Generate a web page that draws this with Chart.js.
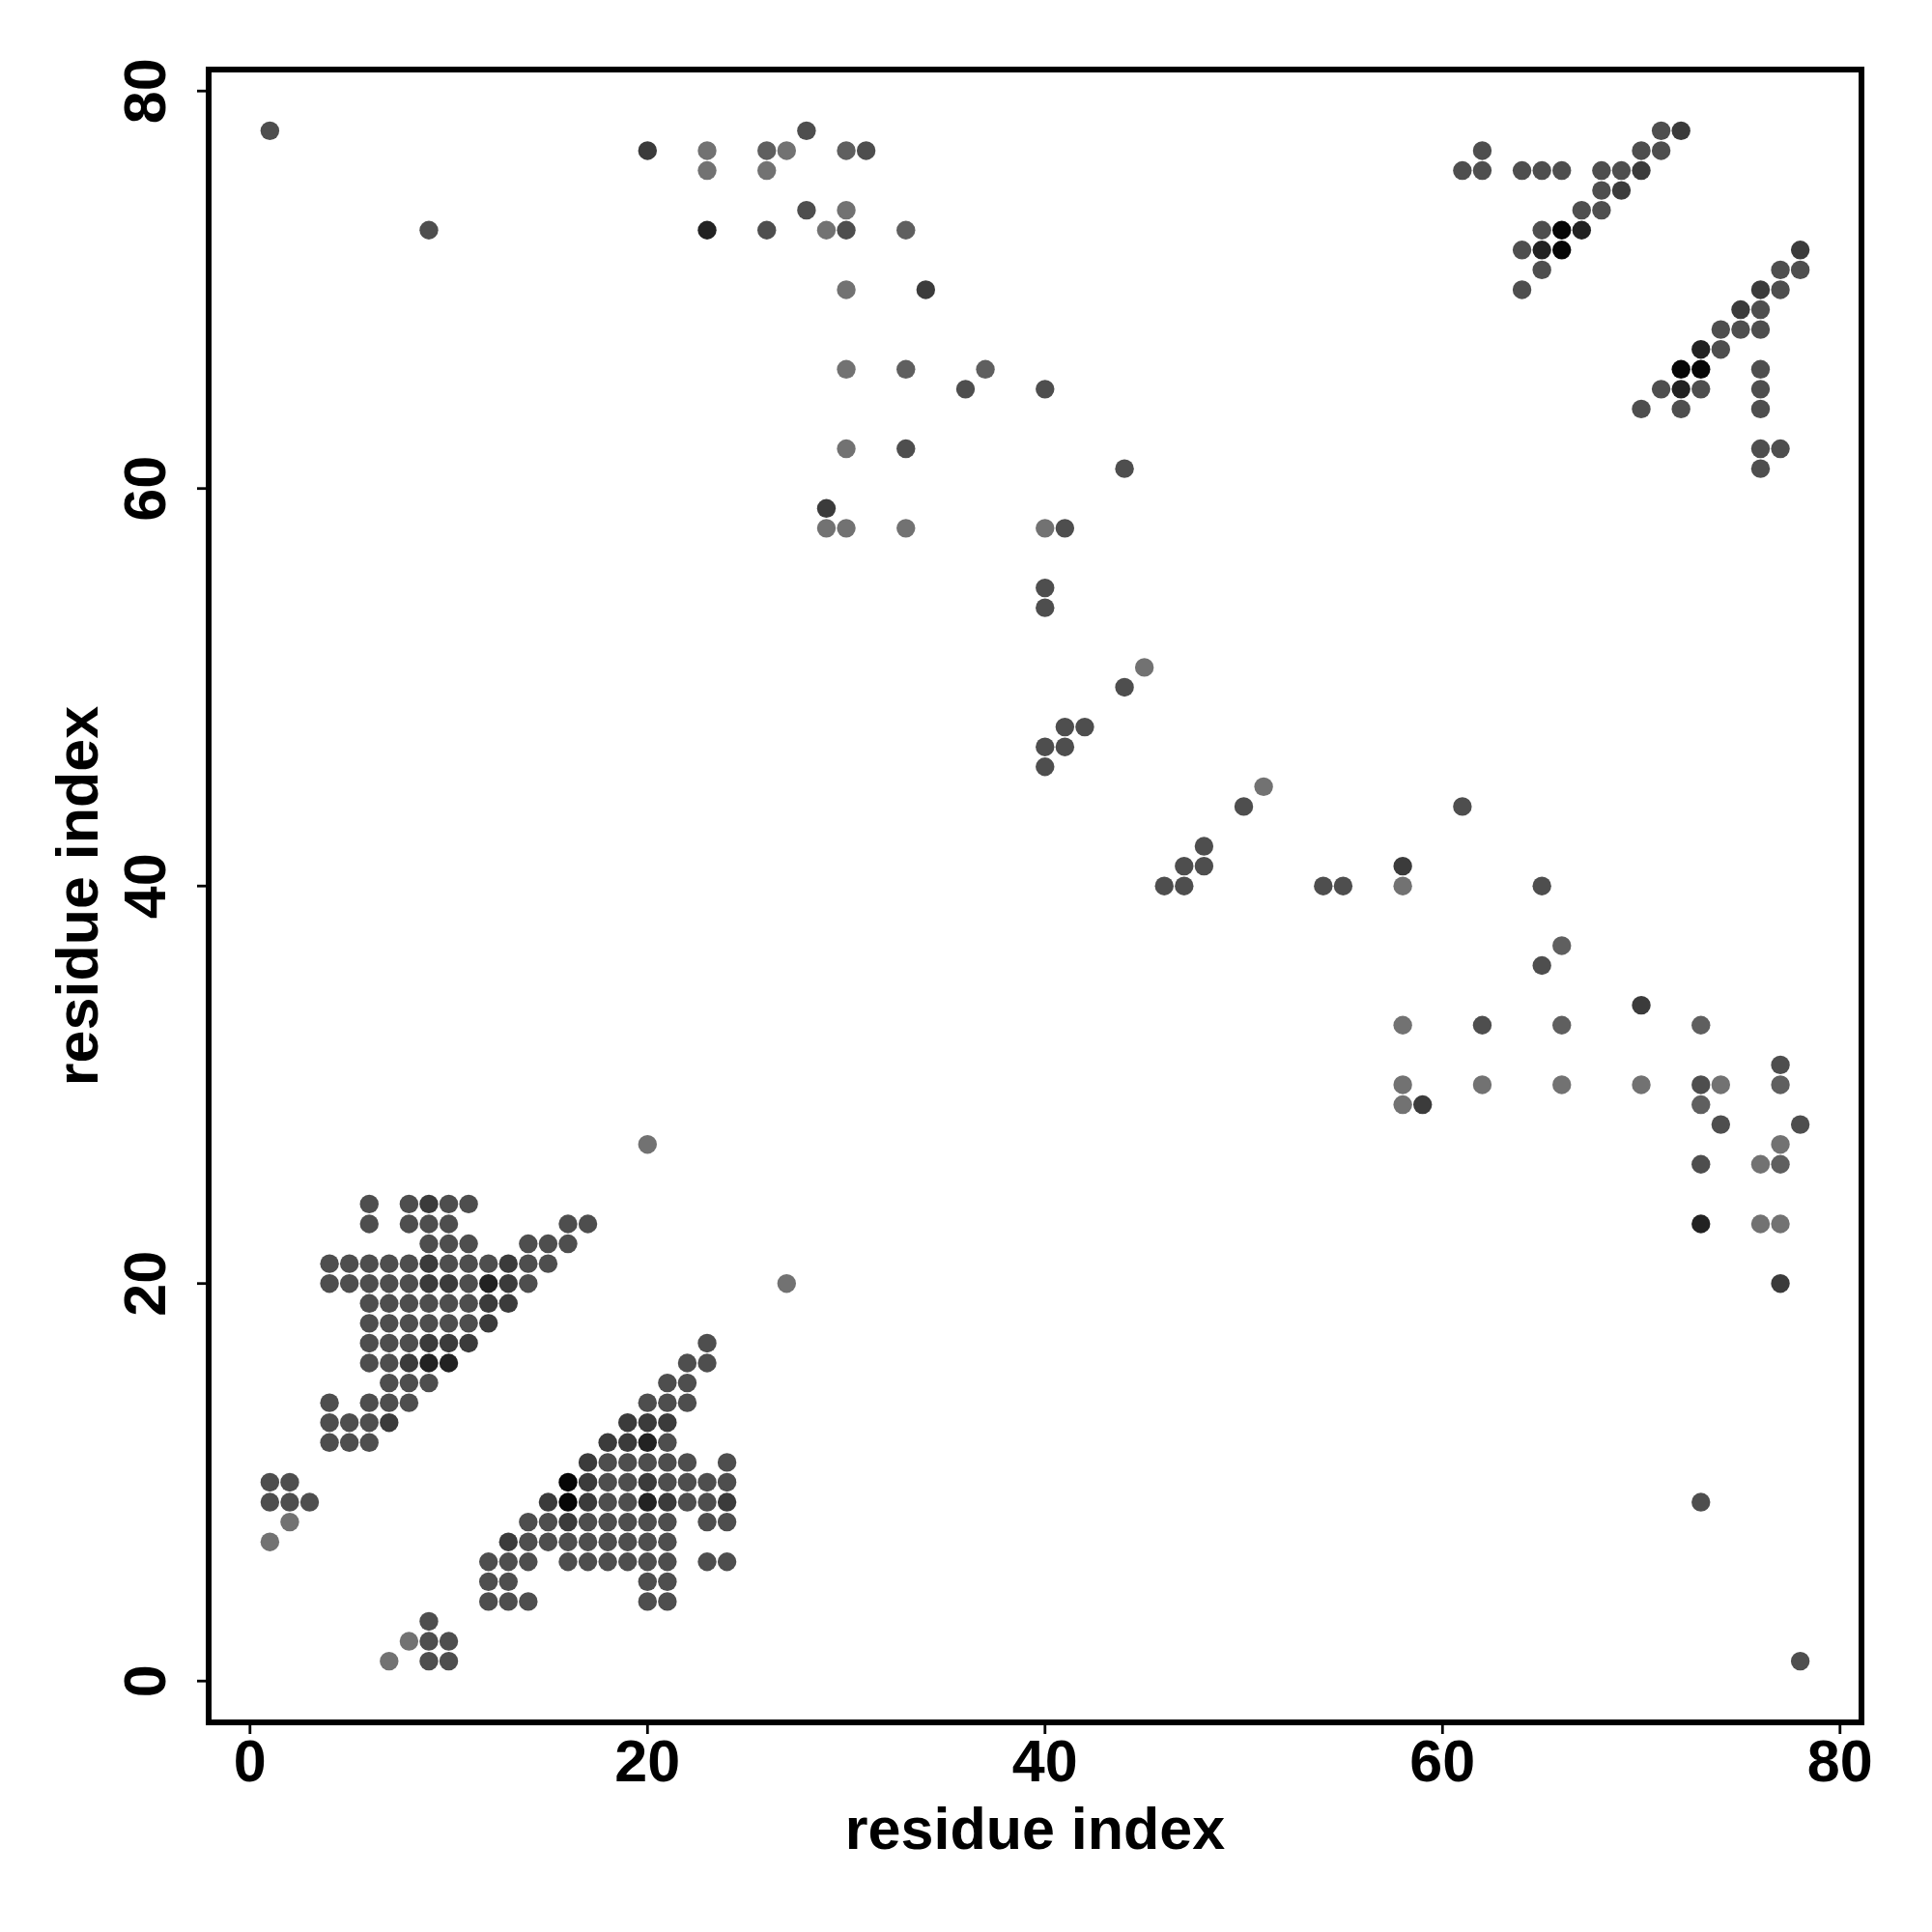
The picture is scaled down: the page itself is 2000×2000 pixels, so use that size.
<!DOCTYPE html>
<html><head><meta charset="utf-8">
<script src="https://cdn.jsdelivr.net/npm/chart.js@4/dist/chart.umd.min.js"></script>
<style>html,body{margin:0;padding:0;background:#fff;}</style>
</head><body>
<canvas id="c" width="2000" height="2000" style="width:2000px;height:2000px;display:block"></canvas>
<script>
// ---- tick labels / titles ----
const xTicks = [0, 20, 40, 60, 80];
const yTicks = [0, 20, 40, 60, 80];
const xTitle = 'residue index';
const yTitle = 'residue index';

// ---- contact points [residue i, residue j], grouped by grey level (light -> black) ----
const shade1 = [[23,77],[27,77],[23,76],[26,76],[30,74],[29,73],[30,70],[30,66],[30,62],[29,58],[30,58],[33,58],[40,58],
  [45,51],[51,45],[58,40],[58,33],[58,30],[62,30],[66,30],[70,30],[74,30],[58,29],[77,27],[20,27],[76,26],[76,23],[77,23],
  [27,20],[2,8],[1,7],[8,2],[7,1]];
const shade2 = [[26,77],[30,77],[33,73],[33,66],[37,66],[66,37],[66,33],[73,33],[77,30],[73,29],[77,26]];
const shade3 = [
  [1,78],[9,73],[28,78],[31,77],[28,74],[26,73],[30,73],[36,65],[40,65],[33,62],[44,61],[41,58],[40,55],[40,54],[44,50],
  [41,48],[42,48],[40,47],[41,47],[40,46],[50,44],[61,44],[48,42],[47,41],[48,41],[46,40],[47,40],[54,40],[55,40],[65,40],
  [65,36],[62,33],[77,31],[73,30],[74,28],[78,28],[73,26],[73,9],[78,1],
  [71,78],[62,77],[70,77],[71,77],[61,76],[62,76],[64,76],[65,76],[66,76],[68,76],[69,76],[68,75],[67,74],[68,74],[65,73],
  [64,72],[65,71],[77,71],[78,71],[64,70],[77,70],[76,69],[74,68],[75,68],[76,68],[74,67],[76,66],[71,65],[73,65],[76,65],
  [70,64],[72,64],[76,64],[76,62],[77,62],[76,61],
  [6,24],[8,24],[10,24],[11,24],
  [6,23],[8,23],[9,23],[10,23],[16,23],[17,23],
  [9,22],[10,22],[11,22],[14,22],[15,22],[16,22],
  [4,21],[5,21],[6,21],[7,21],[8,21],[10,21],[11,21],[12,21],[14,21],[15,21],
  [4,20],[5,20],[6,20],[7,20],[8,20],[11,20],[14,20],
  [6,19],[7,19],[8,19],[9,19],[10,19],[11,19],
  [6,18],[7,18],[8,18],[9,18],[10,18],[11,18],
  [6,17],[7,17],[8,17],
  [6,16],[7,16],
  [7,15],[8,15],[9,15],
  [4,14],[6,14],[7,14],[8,14],
  [4,13],[5,13],[6,13],
  [4,12],[5,12],[6,12],
  [1,10],[2,10],[1,9],[2,9],[3,9],
  [9,3],[9,2],[10,2],[9,1],[10,1],
  [23,17],[22,16],[23,16],[21,15],[22,15],[20,14],[21,14],[22,14],[21,12],
  [18,11],[19,11],[20,11],[21,11],[22,11],[24,11],
  [18,10],[19,10],[21,10],[22,10],[23,10],[24,10],
  [18,9],[19,9],[22,9],[23,9],
  [14,8],[15,8],[17,8],[18,8],[19,8],[20,8],[21,8],[23,8],[24,8],
  [14,7],[15,7],[16,7],[17,7],[18,7],[19,7],[20,7],[21,7],
  [12,6],[13,6],[14,6],[16,6],[17,6],[18,6],[19,6],[20,6],[21,6],[23,6],[24,6],
  [12,5],[13,5],[20,5],[21,5],
  [12,4],[13,4],[14,4],[20,4],[21,4]];
const shade4 = [[20,77],[34,70],[29,59],[58,41],[70,34],[59,29],[77,20],
  [72,78],[70,76],[69,75],[78,72],[76,70],[75,69],
  [9,24],[9,21],[13,21],[9,20],[10,20],[13,20],[12,19],[13,19],[12,18],[9,17],[10,17],[11,17],[8,16],[7,13],
  [19,13],[20,13],[21,13],[18,12],[19,12],[17,11],[17,10],[20,10],[15,9],[17,9],[21,9],[24,9],[16,8],[13,7]];
const shade5 = [[23,73],[73,23],[67,73],[65,72],[73,67],[72,65],[12,20],[9,16],[10,16],[20,12],[20,9]];
const shade6 = [[66,73],[66,72],[72,66],[73,66],[16,10],[16,9]];

const groups = [shade1, shade2, shade3, shade4, shade5, shade6];
const greys = ['#727272', '#5f5f5f', '#4e4e4e', '#3b3b3b', '#222222', '#060606'];

const datasets = groups.map((g, i) => ({
  label: 'level ' + (i + 1),
  data: g.map(p => ({x: p[0], y: p[1]})),
  backgroundColor: greys[i],
  borderColor: greys[i],
  borderWidth: 0,
  pointRadius: 9.7,
  pointHoverRadius: 9.7
}));

const FONT = 'bold 61px "Liberation Sans", Arial, Helvetica, sans-serif';

const axesPlugin = {
  id: 'rAxes',
  afterDraw(chart) {
    const ctx = chart.ctx, a = chart.chartArea, sx = chart.scales.x, sy = chart.scales.y;
    ctx.save();
    ctx.strokeStyle = '#000';
    ctx.fillStyle = '#000';
    ctx.lineWidth = 6;
    ctx.lineJoin = 'miter';
    ctx.strokeRect(a.left, a.top, a.right - a.left, a.bottom - a.top);
    ctx.lineWidth = 2.8;
    ctx.font = FONT;
    xTicks.forEach(v => {
      const px = sx.getPixelForValue(v);
      ctx.beginPath(); ctx.moveTo(px, a.bottom); ctx.lineTo(px, a.bottom + 12); ctx.stroke();
      ctx.textAlign = 'center'; ctx.textBaseline = 'alphabetic';
      ctx.fillText(String(v), px, a.bottom + 61);
    });
    yTicks.forEach(v => {
      const py = sy.getPixelForValue(v);
      ctx.beginPath(); ctx.moveTo(a.left, py); ctx.lineTo(a.left - 12, py); ctx.stroke();
      ctx.save();
      ctx.translate(a.left - 45, py);
      ctx.rotate(-Math.PI / 2);
      ctx.textAlign = 'center'; ctx.textBaseline = 'alphabetic';
      ctx.fillText(String(v), 0, 0);
      ctx.restore();
    });
    ctx.textAlign = 'center'; ctx.textBaseline = 'alphabetic';
    ctx.fillText(xTitle, (a.left + a.right) / 2, a.bottom + 131);
    ctx.save();
    ctx.translate(a.left - 115, (a.top + a.bottom) / 2);
    ctx.rotate(-Math.PI / 2);
    ctx.fillText(yTitle, 0, 0);
    ctx.restore();
    ctx.restore();
  }
};

new Chart(document.getElementById('c'), {
  type: 'scatter',
  data: { datasets },
  options: {
    responsive: false,
    devicePixelRatio: 1,
    animation: false,
    layout: { padding: { left: 216, right: 73, top: 72, bottom: 217 } },
    plugins: { legend: { display: false }, tooltip: { enabled: false } },
    scales: {
      x: { type: 'linear', min: -2.08, max: 81.08, display: false },
      y: { type: 'linear', min: -2.08, max: 81.08, display: false }
    }
  },
  plugins: [axesPlugin]
});
</script>
</body></html>
